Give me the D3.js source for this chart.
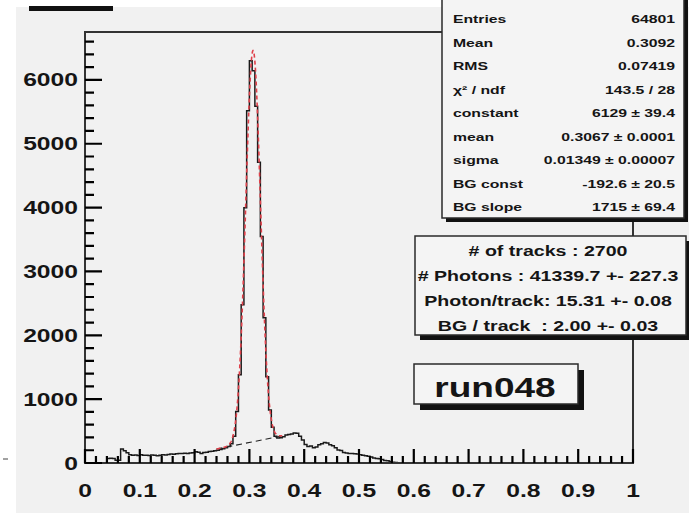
<!DOCTYPE html>
<html>
<head>
<style>
  body { margin: 0; background: #ffffff; }
  text.lbl { font-family: "Liberation Sans", Arial, sans-serif; font-weight: bold; fill: #151515; white-space: pre; }
</style>
</head>
<body>
<div id="chart"></div>
<script src="https://d3js.org/d3.v7.min.js"></script>
<script>
// histogram: 200 bins of 0.005 on [0,1]; bins above 0.6 are empty
const binWidth = 0.005;
const counts = [
  0, 0, 0, 0, 0, 0, 0, 0,
  70, 75, 72, 45, 42,
  220, 190, 160, 130, 120, 125, 118,
  128, 120, 122, 118, 125, 120, 115, 122, 128, 125,
  135, 140, 138, 145, 150, 148, 152, 150, 155, 160,
  175, 170, 150, 165, 170, 180, 185, 190, 200, 210,
  225, 240, 260, 300, 420,
  805, 1381, 2480, 3998, 5515, 6300, 6143, 5589, 4710, 3548, 2276, 1350, 832,
  560, 420, 390, 395, 410, 440, 445, 455, 470, 465, 420, 360,
  290, 260, 265, 240, 250, 285, 300, 320, 315, 285,
  270, 240, 205, 195, 165, 155, 150, 150, 145, 140,
  130, 120, 115, 105, 95, 80, 72, 65, 55, 40,
  35, 25, 12, 8, 3, 2, 0, 0, 0, 0
];

const yTicks = [0, 1000, 2000, 3000, 4000, 5000, 6000];
const xTicks = [0, 0.1, 0.2, 0.3, 0.4, 0.5, 0.6, 0.7, 0.8, 0.9, 1];
const xTickLabels = ["0", "0.1", "0.2", "0.3", "0.4", "0.5", "0.6", "0.7", "0.8", "0.9", "1"];

// fit result (gaus + pol1) as printed in the stats box
const fitConstant = 6129, fitMean = 0.3067, fitSigma = 0.01349;
const bgConst = -192.6, bgSlope = 1715;
const fitRange = [0.24, 0.36];

const statLabels = ["Entries", "Mean", "RMS", "\u03c7\u00b2 / ndf", "constant", "mean", "sigma", "BG const", "BG slope"];
const statValues = ["64801", "0.3092", "0.07419", "143.5 / 28", "6129 \u00b1 39.4", "0.3067 \u00b1 0.0001",
                    "0.01349 \u00b1 0.00007", "-192.6 \u00b1 20.5", "1715 \u00b1 69.4"];

const infoLines = ["# of tracks : 2700", "# Photons : 41339.7 +- 227.3",
                   "Photon/track: 15.31 +- 0.08", "BG / track  : 2.00 +- 0.03"];
const runName = "run048";

const W = 689, H = 513;
const sx = 1.37; // the picture's lettering is stretched horizontally
const axisColor = "#333333";

const svg = d3.select("#chart").append("svg").attr("width", W).attr("height", H);

// pad background
svg.append("rect").attr("x", 16).attr("y", 7).attr("width", W - 16).attr("height", H - 7).attr("fill", "#f1f1f1");
// bottom of the (cut off) title box
svg.append("rect").attr("x", 29).attr("y", 6).attr("width", 84).attr("height", 5).attr("fill", "#111");
svg.append("line").attr("x1", 3).attr("x2", 8).attr("y1", 459).attr("y2", 459).attr("stroke", "#444");

const x = d3.scaleLinear().domain([0, 1]).range([85, 633]);
const y = d3.scaleLinear().domain([0, 6750]).range([463, 32]);

function label(g, str, px, py, size, anchor) {
  return g.append("text")
    .attr("class", "lbl")
    .attr("transform", "translate(" + px + "," + py + ") scale(" + sx + ",1)")
    .attr("text-anchor", anchor)
    .style("font-size", size + "px")
    .text(str);
}

// histogram outline
const pts = counts.map((c, i) => [i * binWidth, c]);
pts.push([counts.length * binWidth, counts[counts.length - 1]]);
const stepLine = d3.line().x((d) => x(d[0])).y((d) => y(d[1])).curve(d3.curveStepAfter);
svg.append("path").attr("d", stepLine(pts))
  .attr("fill", "none").attr("stroke", "#1a1a1a").attr("stroke-width", 1.5);

// fit functions
const fx = d3.range(fitRange[0], fitRange[1] + 1e-9, 0.0005);
const lin = d3.line().x((d) => x(d[0])).y((d) => y(d[1]));
svg.append("path")
  .attr("d", lin(fitRange.map((v) => [v, bgConst + bgSlope * v])))
  .attr("fill", "none").attr("stroke", "#222").attr("stroke-width", 1.1).attr("stroke-dasharray", "6,4");
svg.append("path")
  .attr("d", lin(fx.map((v) => [v, fitConstant * Math.exp(-0.5 * Math.pow((v - fitMean) / fitSigma, 2)) + bgConst + bgSlope * v])))
  .attr("fill", "none").attr("stroke", "#e0404a").attr("stroke-width", 1.6).attr("stroke-dasharray", "4,3");

// frame
svg.append("rect").attr("x", x(0)).attr("y", y(6750))
  .attr("width", x(1) - x(0)).attr("height", y(0) - y(6750))
  .attr("fill", "none").attr("stroke", axisColor).attr("stroke-width", 2);

// ticks pointing into the frame: long at labelled values, short in between
const yMinor = d3.range(200, 6751, 200).filter((v) => v % 1000 !== 0);
const xMinor = d3.range(1, 50).filter((i) => i % 5 !== 0).map((i) => i * 0.02);
const tickPath = d3.path();
yTicks.forEach((v) => { tickPath.moveTo(x(0), y(v)); tickPath.lineTo(x(0) + 17, y(v)); });
yMinor.forEach((v) => { tickPath.moveTo(x(0), y(v)); tickPath.lineTo(x(0) + 9, y(v)); });
xTicks.forEach((v) => { tickPath.moveTo(x(v), y(0)); tickPath.lineTo(x(v), y(0) - 14); });
xMinor.forEach((v) => { tickPath.moveTo(x(v), y(0)); tickPath.lineTo(x(v), y(0) - 7); });
svg.append("path").attr("d", tickPath.toString())
  .attr("fill", "none").attr("stroke", "#000").attr("stroke-width", 2.2);

// tick labels
yTicks.forEach((v) => label(svg, String(v), 78, y(v) + 6.5, 18, "end"));
xTicks.forEach((v, i) => label(svg, xTickLabels[i], x(v), 497, 18, "middle"));

// boxes with ROOT style shadows
function box(x0, y0, x1, y1, sh) {
  svg.append("rect").attr("x", x0 + sh + 4).attr("y", y0 + sh + 4).attr("width", x1 - x0).attr("height", y1 - y0).attr("fill", "#111");
  svg.append("rect").attr("x", x0).attr("y", y0).attr("width", x1 - x0).attr("height", y1 - y0)
    .attr("fill", "#f4f4f4").attr("stroke", "#2a2a2a").attr("stroke-width", 1.5);
}

// stats box
box(442, -10, 684, 218, 0);
statLabels.forEach((s, i) => {
  const cy = 19 + i * 23.5 + 4;
  label(svg, s, 453, cy, 11.5, "start");
  label(svg, statValues[i], 675, cy, 11.5, "end");
});

// info box
box(415, 236, 686, 335, 1);
infoLines.forEach((s, i) => label(svg, s, 548, 251 + i * 25 + 5, 14.3, "middle"));

// run label
box(414, 364, 578, 404, 2);
label(svg, runName, 495, 397, 27, "middle");
</script>
</body>
</html>
